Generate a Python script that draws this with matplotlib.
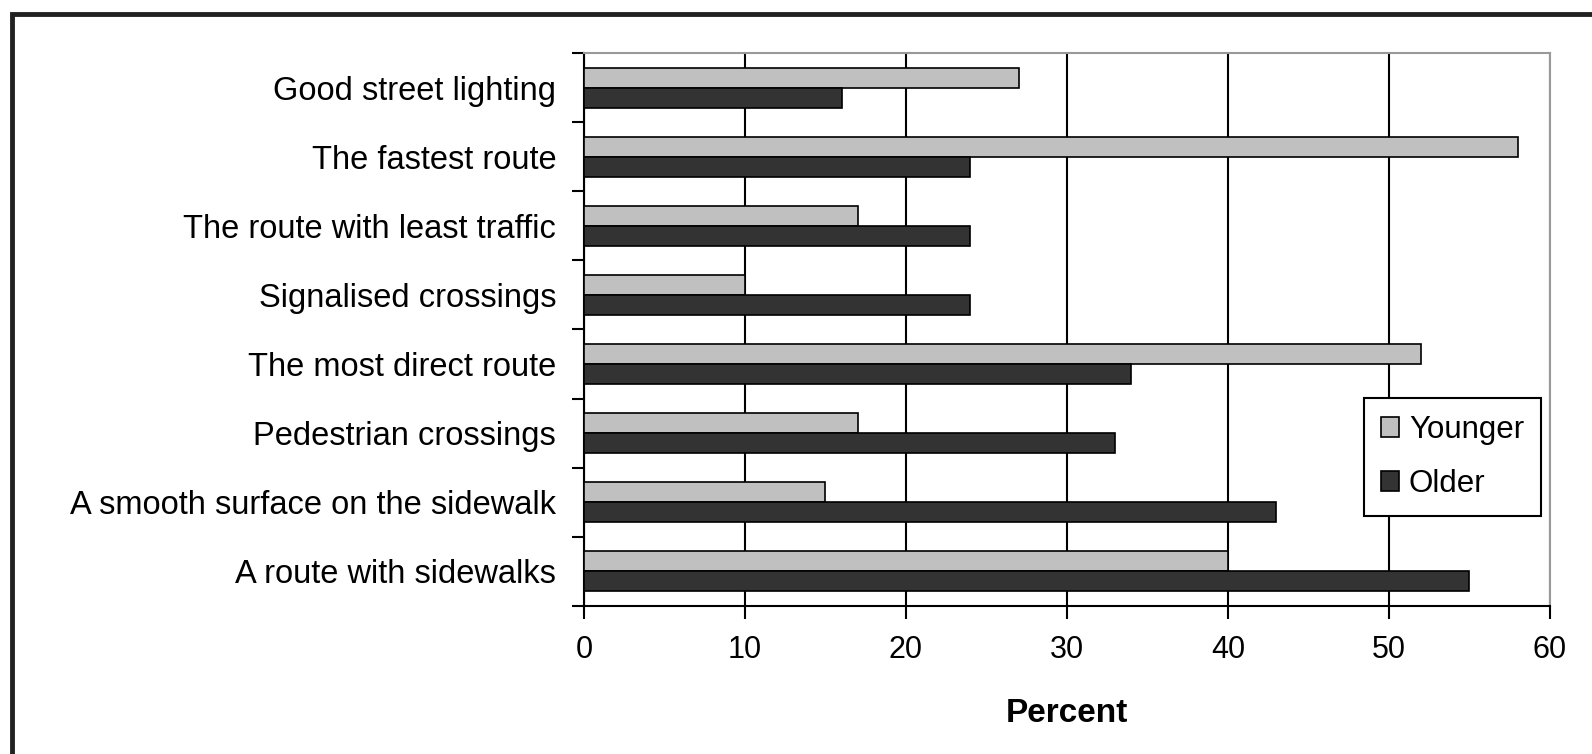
import numpy as np
import matplotlib.pyplot as plt
from matplotlib.patches import Rectangle

plt.rcParams['font.family'] = ['Liberation Sans', 'DejaVu Sans']

categorias = ['Good street lighting', 'The fastest route', 'The route with least traffic',
              'Signalised crossings', 'The most direct route', 'Pedestrian crossings',
              'A smooth surface on the sidewalk', 'A route with sidewalks']
younger = [27, 58, 17, 10, 52, 17, 15, 40]
older = [16, 24, 24, 24, 34, 33, 43, 55]

fig = plt.figure(figsize=(15.92, 7.54), dpi=100)
ax = fig.add_axes([0.3668, 0.1963, 0.6068, 0.7334])

n = len(categorias)
ind = np.arange(n)
h = 0.29

ax.barh(ind - h/2, younger, h, color='#c0c0c0', edgecolor='black', linewidth=1.2, label='Younger', zorder=3)
ax.barh(ind + h/2, older, h, color='#333333', edgecolor='black', linewidth=1.2, label='Older', zorder=3)

ax.set_ylim(n - 0.5, -0.5)
ax.set_xlim(0, 60)
ax.set_xticks(range(0, 61, 10))
ax.set_yticks(ind)
ax.set_yticklabels(categorias)
ax.set_yticks(np.arange(-0.5, n, 1), minor=True)
ax.tick_params(axis='y', which='major', length=0, labelsize=23.5, pad=20)
ax.tick_params(axis='y', which='minor', length=9, width=1.5, direction='out')
ax.tick_params(axis='x', length=9, width=1.5, direction='out', labelsize=22, pad=12)

ax.grid(axis='x', color='black', linewidth=1.5, zorder=1)
for s in ['left', 'bottom']:
    ax.spines[s].set_linewidth(1.5)
    ax.spines[s].set_color('black')
for s in ['top', 'right']:
    ax.spines[s].set_linewidth(1.5)
    ax.spines[s].set_color('#999999')

ax.set_xlabel('Percent', fontsize=24, fontweight='bold', labelpad=24)

leg = ax.legend(loc='upper left', bbox_to_anchor=(0.807, 0.376), fontsize=22.5,
                fancybox=False, edgecolor='black', framealpha=1, borderaxespad=0,
                handlelength=0.6, handleheight=0.6, handletextpad=0.3,
                labelspacing=0.75, borderpad=0.55)
leg.get_frame().set_linewidth(1.5)

# marco exterior (solo arriba e izquierda visibles)
fig.patches.append(Rectangle((12/1592, -0.05), 1.2, 1.05 - 14/754, transform=fig.transFigure,
                             fill=False, edgecolor='#222222', linewidth=3.5))

fig.savefig('out.png', dpi=100)
